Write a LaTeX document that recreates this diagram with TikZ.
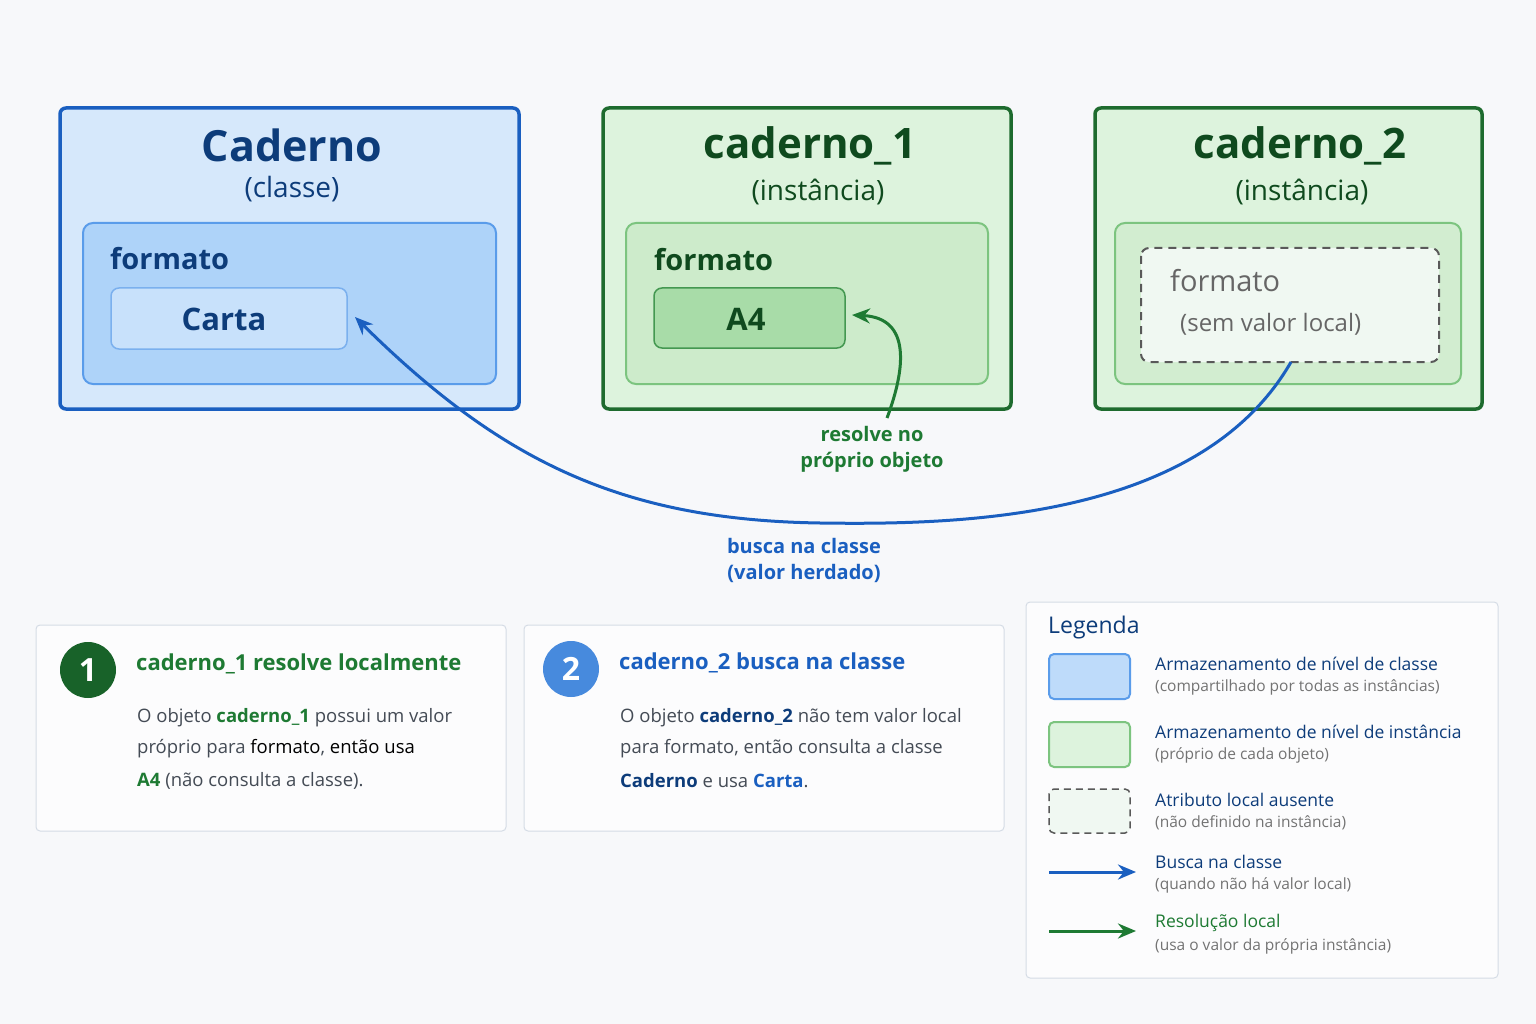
\documentclass[tikz,border=0pt]{standalone}
\usepackage{fontspec}
\setmainfont{Open Sans}
\usetikzlibrary{arrows.meta}
\definecolor{bg}{HTML}{F7F8FA}
\definecolor{bblue}{HTML}{1A5FC0}
\definecolor{dblue}{HTML}{0D3C7A}
\definecolor{lblue}{HTML}{D6E8FB}
\definecolor{mblue}{HTML}{AED3F9}
\definecolor{vblue}{HTML}{C8E1FB}
\definecolor{eblue}{HTML}{5A9CEA}
\definecolor{bgreen}{HTML}{1E6B2E}
\definecolor{dgreen}{HTML}{0F4A1E}
\definecolor{lgreen}{HTML}{DDF3DD}
\definecolor{mgreen}{HTML}{CDEBCB}
\definecolor{vgreen}{HTML}{A8DCA8}
\definecolor{egreen}{HTML}{7CC47F}
\definecolor{tgreen}{HTML}{1E7A33}
\definecolor{gtext}{HTML}{444B55}
\definecolor{cardb}{HTML}{D5DCE5}
\begin{document}
\begin{tikzpicture}[x=1pt,y=-1pt,
 fs/.style={font=\fontsize{#1}{#1}\selectfont},
 outer/.style={rounded corners=6pt,line width=3.5pt},
 card/.style={draw=cardb,fill=white!60!bg,rounded corners=4pt,line width=1pt},
 tl/.style={anchor=west,inner sep=0pt},
 arr/.style={line width=3pt,-{Stealth[length=18pt,width=15pt]}}]
\fill[bg] (0,0) rectangle (1536,1024);
\useasboundingbox (0,0) rectangle (1536,1024);
% Caderno
\draw[outer,draw=bblue,fill=lblue] (60,108) rectangle (519,409);
\node[font=\bfseries\fontsize{43}{43}\selectfont,text=dblue] (t0) at (292,145) {Caderno};
\node[fs=28,text=dblue] (s0) at (292,189) {(classe)};
\draw[draw=eblue,fill=mblue,rounded corners=10pt,line width=2pt] (83,223) rectangle (496,384);
\node[tl,font=\bfseries\fontsize{29}{29}\selectfont,text=dblue] (f0) at (110,259) {formato};
\draw[draw=eblue!80!white,fill=vblue,rounded corners=8pt,line width=1.5pt] (111,288) rectangle (347,349);
\node[font=\bfseries\fontsize{31}{31}\selectfont,text=dblue] (carta) at (224,319) {Carta};
\coordinate (cartaR) at (355,317);
% caderno_1
\draw[outer,draw=bgreen,fill=lgreen] (603,108) rectangle (1011,409);
\node[font=\bfseries\fontsize{42}{42}\selectfont,text=dgreen] (t1) at (810,146) {caderno\_1};
\node[fs=28,text=dgreen] (s1) at (818,192) {(instância)};
\draw[draw=egreen,fill=mgreen,rounded corners=10pt,line width=2pt] (626,223) rectangle (988,384);
\node[tl,font=\bfseries\fontsize{29}{29}\selectfont,text=dgreen] (f1) at (654,260) {formato};
\draw[draw=tgreen!60!egreen,fill=vgreen,rounded corners=8pt,line width=1.5pt] (654,288) rectangle (845,348);
\node[font=\bfseries\fontsize{31}{31}\selectfont,text=dgreen] (a4) at (746,319) {A4};
\coordinate (a4R) at (852,315);
% caderno_2
\draw[outer,draw=bgreen,fill=lgreen] (1095,108) rectangle (1482,409);
\node[font=\bfseries\fontsize{42}{42}\selectfont,text=dgreen] (t2) at (1300,146) {caderno\_2};
\node[fs=28,text=dgreen] (s2) at (1302,192) {(instância)};
\draw[draw=egreen,fill=mgreen!70!lgreen,rounded corners=10pt,line width=2pt] (1115,223) rectangle (1461,384);
\draw[draw=gray!70!black,fill=green!3!bg,dashed,dash pattern=on 8pt off 6pt,rounded corners=8pt,line width=2pt] (1141,248) rectangle (1439,362);
\node[tl,fs=29,text=gray!80!black] (f2) at (1170,281) {formato};
\node[tl,fs=24,text=gray!80!black] (sv) at (1180,324) {(sem valor local)};
\coordinate (c2B) at (1291,362);
% arrows
\draw[arr,draw=bblue] (c2B) .. controls (1200,520) and (960,525) .. (820,523) .. controls (620,520) and (500,460) .. (cartaR);
\node[font=\bfseries\fontsize{20}{20}\selectfont,text=bblue,align=center] (lb) at (804,560) {busca na classe\\[6pt](valor herdado)};
\coordinate (gs) at (887,418);
\draw[arr,draw=tgreen] (gs) .. controls (905,370) and (912,318) .. (a4R);
\node[font=\bfseries\fontsize{20}{20}\selectfont,text=tgreen,align=center] (lg) at (872,449) {resolve no\\[6pt]próprio objeto};
% card 1
\draw[card] (36,625) rectangle (506,831);
\node[circle,fill=tgreen!80!black,minimum size=56pt,inner sep=0pt,text=white,font=\bfseries\fontsize{32}{32}\selectfont] (n1) at (88,670) {1};
\node[tl,font=\bfseries\fontsize{22}{22}\selectfont,text=tgreen] (h1) at (136,664) {caderno\_1 resolve localmente};
\node[tl,fs=18.5,text=gtext] (b11) at (137,718) {O objeto \textbf{\color{tgreen}caderno\_1} possui um valor};
\node[tl,fs=18.5,text=gtext] (b12) at (137,749) {próprio para {\color{black}formato}, {\color{black}então usa}};
\node[tl,fs=18.5,text=gtext] (b13) at (137,781) {\textbf{\color{tgreen}A4} (não consulta a classe).};
% card 2
\draw[card] (524,625) rectangle (1004,831);
\node[circle,fill=eblue!70!bblue,minimum size=56pt,inner sep=0pt,text=white,font=\bfseries\fontsize{32}{32}\selectfont] (n2) at (571,669) {2};
\node[tl,font=\bfseries\fontsize{22}{22}\selectfont,text=bblue] (h2) at (619,663) {caderno\_2 busca na classe};
\node[tl,fs=18.5,text=gtext] (b21) at (620,718) {O objeto \textbf{\color{dblue}caderno\_2} não tem valor local};
\node[tl,fs=18.5,text=gtext] (b22) at (620,749) {para formato, então consulta a classe};
\node[tl,fs=18.5,text=gtext] (b23) at (620,781) {\textbf{\color{dblue}Caderno} e usa \textbf{\color{bblue}Carta}.};
% legend
\draw[card] (1026,602) rectangle (1498,978);
\node[tl,fs=23,text=dblue] (lt) at (1048,628) {Legenda};
\draw[draw=eblue,fill=mblue!60!lblue,rounded corners=5pt,line width=2pt] (1049,654) rectangle (1130,699);
\draw[draw=egreen,fill=lgreen,rounded corners=5pt,line width=2pt] (1049,722) rectangle (1130,767);
\draw[draw=gray!70!black,fill=green!3!bg,dashed,dash pattern=on 7pt off 5pt,rounded corners=5pt,line width=1.5pt] (1049,789) rectangle (1130,833);
\coordinate (la1) at (1049,872); \coordinate (la2) at (1136,872);
\coordinate (lg1) at (1049,931); \coordinate (lg2) at (1136,931);
\draw[arr,draw=bblue] (la1) -- (la2);
\draw[arr,draw=tgreen] (lg1) -- (lg2);
\foreach \y/\t/\s/\c in {664/Armazenamento de nível de classe/(compartilhado por todas as instâncias)/dblue,
 732/Armazenamento de nível de instância/(próprio de cada objeto)/dblue,
 800/Atributo local ausente/(não definido na instância)/dblue,
 862/Busca na classe/(quando não há valor local)/dblue,
 923/Resolução local/(usa o valor da própria instância)/tgreen}{
 \node[tl,fs=17.5,text=\c] at (1155,\y) {\t};
 \node[tl,fs=15.5,text=gray!90!black] at (1155,\y+23) {\s};
}
\end{tikzpicture}
\end{document}
